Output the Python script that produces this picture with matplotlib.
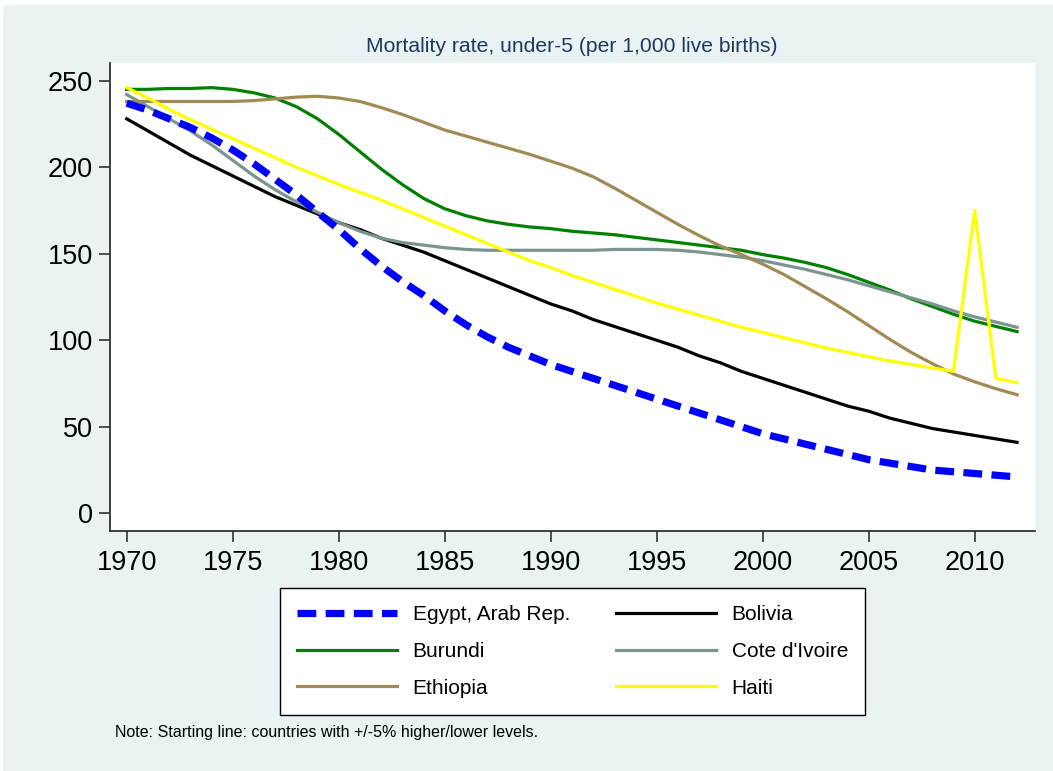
import matplotlib
matplotlib.use("Agg")
import matplotlib.pyplot as plt
from matplotlib.patches import Rectangle

plt.rcParams['font.family'] = ['Liberation Sans', 'DejaVu Sans']

years = list(range(1970, 2013))

egypt = [237, 233, 228, 223, 217, 210, 202, 193, 184, 174, 164, 153, 143, 134, 126,
         117, 109, 102, 96, 91, 86, 82, 78, 74, 70, 66, 62, 58, 54, 50,
         46, 43, 40, 37, 34, 31, 29, 27, 25, 24, 23, 22, 21]
bolivia = [228, 221, 214, 207, 201, 195, 189, 183, 178, 173, 168, 164, 159, 155, 151,
           146, 141, 136, 131, 126, 121, 117, 112, 108, 104, 100, 96, 91, 87, 82,
           78, 74, 70, 66, 62, 59, 55, 52, 49, 47, 45, 43, 41]
burundi = [245, 245, 245.5, 245.5, 246, 245, 243, 240, 235, 228, 219, 209, 199, 190, 182,
           176, 172, 169, 167, 165.5, 164.5, 163, 162, 161, 159.5, 158, 156.5, 155, 153.5, 152,
           149.5, 147.5, 145, 142, 138, 133.5, 129, 124, 119.5, 115, 111, 108, 105]
cote = [242, 235, 228, 221, 213, 204, 195, 187, 180, 174, 168, 163, 159, 156.5, 155,
        153.5, 152.5, 152, 152, 152, 152, 152, 152, 152.5, 152.5, 152.5, 152, 151, 149.5, 148,
        146, 143.5, 141, 138, 135, 131.5, 128, 124.5, 121, 117, 113.5, 110.5, 107.5]
ethiopia = [238, 238, 238, 238, 238, 238, 238.5, 239.5, 240.5, 241, 240, 238, 234.5, 230.5, 226,
            221.5, 218, 214.5, 211, 207.5, 203.5, 199.5, 194.5, 188, 181, 174, 167, 160.5, 154.5, 149.5,
            144, 138, 131, 124, 116.5, 108.5, 100.5, 93, 86.5, 80.5, 76, 72, 68.5]
haiti = [246, 240, 233.5, 227.5, 222, 216.5, 211, 205.5, 200, 195, 190, 185.5, 181, 176, 171,
         166, 161, 156, 151, 146, 142, 137.5, 133.5, 129.5, 125.5, 121.5, 118, 114.5, 111, 107.5,
         104.5, 101.5, 98.5, 95.5, 93, 90.5, 88, 86, 84, 82, 175, 78, 75.5]

labels = ["Egypt, Arab Rep.", "Bolivia", "Burundi", "Cote d'Ivoire", "Ethiopia", "Haiti"]
x_ticks = [1970, 1975, 1980, 1985, 1990, 1995, 2000, 2005, 2010]
y_ticks = [0, 50, 100, 150, 200, 250]

W, H = 1053, 771
fig = plt.figure(figsize=(W / 100, H / 100), dpi=100)
fig.patch.set_facecolor('white')
bg = '#EAF2F3'
fig.patches.append(Rectangle((3 / W, 0), 1 - 3 / W, 1 - 5 / H, transform=fig.transFigure,
                             facecolor=bg, edgecolor='none', zorder=-10))

ax = fig.add_axes([109.5 / W, (H - 530.5) / H, (1035 - 109.5) / W, (530.5 - 63) / H])
ax.set_facecolor('white')

lw = 2.3
l_egy, = ax.plot(years, egypt, color='#0000FF', lw=5.2, dashes=(2.6, 1.3), zorder=6)
l_bol, = ax.plot(years, bolivia, color='black', lw=lw)
l_bur, = ax.plot(years, burundi, color='#008000', lw=lw)
l_cot, = ax.plot(years, cote, color='#7A958F', lw=lw)
l_eth, = ax.plot(years, ethiopia, color='#A08A55', lw=lw)
l_hai, = ax.plot(years, haiti, color='#FFFF00', lw=lw)

# axis scales: 1970 at x=126.7, 21.2 px/yr; 0 at y=513.3, 250 at y=80.7
px_per_yr = 21.2
x0 = 1970 - (126.7 - 109.5) / px_per_yr
x1 = 1970 + (1035 - 126.7) / px_per_yr
ax.set_xlim(x0, x1)
px_per_unit = (513.3 - 80.7) / 250
ax.set_ylim(-(530.5 - 513.3) / px_per_unit, 250 + (80.7 - 63) / px_per_unit)

for s in ['top', 'right']:
    ax.spines[s].set_visible(False)
for s in ['left', 'bottom']:
    ax.spines[s].set_linewidth(1.2)
    ax.spines[s].set_color('#222222')

ax.set_xticks(x_ticks)
ax.set_yticks(y_ticks)
ax.tick_params(axis='both', length=8, width=1.1, color='#222222', labelsize=19.5, pad=6)
ax.tick_params(axis='y', pad=4)

fig.text((109.5 + 1035) / 2 / W, 1 - 46 / H, "Mortality rate, under-5 (per 1,000 live births)",
         ha='center', va='center', fontsize=15.2, color='#1E3A5F')

# row-wise order as in the reference legend
handles = [l_egy, l_bur, l_eth, l_bol, l_cot, l_hai]
leg_labels = [labels[0], labels[2], labels[4], labels[1], labels[3], labels[5]]
leg = fig.legend(handles, leg_labels, ncol=2, loc='upper left',
                 bbox_to_anchor=(280 / W, 1 - 588 / H), frameon=True, fancybox=False,
                 fontsize=15, handlelength=4.8, handletextpad=0.75, columnspacing=2.2,
                 labelspacing=0.85, borderpad=0.82, borderaxespad=0,
                 edgecolor='black', framealpha=1)
leg.get_frame().set_linewidth(1.0)

fig.text(115 / W, 1 - 733 / H, "Note: Starting line: countries with +/-5% higher/lower levels.",
         ha='left', va='center', fontsize=11.5, color='black')

fig.savefig('out.png', dpi=100, facecolor=fig.get_facecolor())
